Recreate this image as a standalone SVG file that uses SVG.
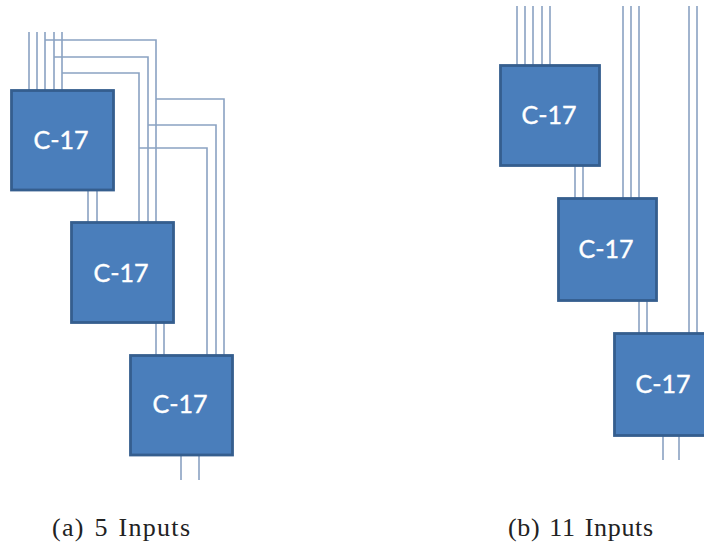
<svg xmlns="http://www.w3.org/2000/svg" width="704" height="550" viewBox="0 0 704 550">
<style>
.w{fill:none;stroke:#8aa2c2;stroke-width:1.6}
.b{fill:#4a7ebb;stroke:#355e8e;stroke-width:2.8}
.l{font-family:Lato,"Open Sans",sans-serif;font-size:25px;fill:#fff;stroke:#fff;stroke-width:.4;text-anchor:middle}
.c{font-family:"Liberation Serif",serif;font-size:26px;word-spacing:2px;fill:#222}
</style>
<rect width="704" height="550" fill="#fff"/>
<g id="connectors">
<path class="w" d="M29 32V90M37 32V90M45 32V90M54 32V90M62 32V90"/>
<path class="w" d="M45 40H156V222M54 57H148V222M62 73H139V222"/>
<path class="w" d="M156 99H224V355M148 125H216V355M139 148H207V355"/>
<path class="w" d="M88 190V222M97 190V222M156 323V355M164 323V355M181 455V480M199 455V480"/>
<path class="w" d="M517 6V65M525 6V65M533 6V65M542 6V65M550 6V65"/>
<path class="w" d="M623 6V198M631 6V198M639 6V198M689 6V333M697 6V333"/>
<path class="w" d="M575 166V198M583 166V198M639 301V333M647 301V333M663 436V460M679 436V460"/>
</g>
<g id="a1"><rect class="b" x="11.500" y="90.500" width="102" height="99.500"/><text class="l" x="61" y="149">C-17</text></g>
<g id="a2"><rect class="b" x="71.500" y="222.500" width="102" height="100"/><text class="l" x="121" y="282">C-17</text></g>
<g id="a3"><rect class="b" x="130.500" y="355.500" width="102" height="99.500"/><text class="l" x="180" y="413">C-17</text></g>
<g id="b1"><rect class="b" x="500.500" y="65.500" width="99" height="100"/><text class="l" x="549" y="124">C-17</text></g>
<g id="b2"><rect class="b" x="558.500" y="198.500" width="98" height="102"/><text class="l" x="606" y="258">C-17</text></g>
<g id="b3"><rect class="b" x="614.500" y="333.500" width="100" height="102"/><text class="l" x="663" y="393">C-17</text></g>
<g id="captions">
<text class="c" x="52" y="536" textLength="138">(a) 5 Inputs</text>
<text class="c" x="508" y="536" textLength="145">(b) 11 Inputs</text>
</g>
</svg>
